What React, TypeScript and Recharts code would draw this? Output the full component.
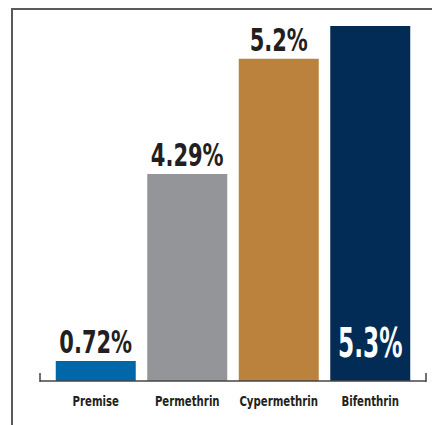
import React from 'react';
import { BarChart, Bar, XAxis, YAxis, Cell, LabelList } from 'recharts';

const products = ["Premise", "Permethrin", "Cypermethrin", "Bifenthrin"];
// percentages printed on the bars
const percentages = [0.72, 4.29, 5.2, 5.3];
// bar heights as drawn in the graphic (not to scale with the printed numbers)
const drawnHeights = [0.3, 3.09, 4.81, 5.3];
const barColors = ["#0067a9", "#949598", "#ba823c", "#022c56"];

const data = products.map((name, i) => ({
  name,
  pct: percentages[i],
  height: drawnHeights[i],
}));

const FONT = '"DejaVu Sans Condensed", "DejaVu Sans", sans-serif';

// the original uses a very narrow face, so squeeze the text horizontally
let ctx: CanvasRenderingContext2D | null = null;
const measure = (text: string, size: number) => {
  if (!ctx) ctx = document.createElement('canvas').getContext('2d');
  if (!ctx) return text.length * size * 0.6;
  ctx.font = `bold ${size}px ${FONT}`;
  return ctx.measureText(text).width;
};

const NarrowText = ({ x, y, size, squeeze, fill, children }: any) => {
  const w = measure(children, size) * squeeze;
  return (
    <text
      x={x}
      y={y}
      textAnchor="middle"
      fill={fill}
      fontFamily={FONT}
      fontWeight="bold"
      fontSize={size}
      textLength={w}
      lengthAdjust="spacingAndGlyphs"
    >
      {children}
    </text>
  );
};

const ValueLabel = (props: any) => {
  const { x, y, width, height, index } = props;
  const text = `${percentages[index]}%`;
  const cx = x + width / 2;
  if (index === products.length - 1) {
    // white label inside the last bar, near its bottom
    return (
      <NarrowText x={cx} y={y + height - 24} size={41} squeeze={0.63} fill="#ffffff">
        {text}
      </NarrowText>
    );
  }
  return (
    <NarrowText x={cx} y={y - 8} size={31.5} squeeze={0.74} fill="#231f20">
      {text}
    </NarrowText>
  );
};

const CategoryTick = (props: any) => {
  const { x, y, payload } = props;
  return (
    <NarrowText x={x} y={y + 17} size={14.5} squeeze={0.78} fill="#231f20">
      {payload.value}
    </NarrowText>
  );
};

const App: React.FC = () => {
  return (
    <div style={{ position: 'relative', width: 440, height: 425, margin: '-8px 0 0 -8px', background: '#fff' }}>
      <svg width={440} height={425} style={{ position: 'absolute', left: 0, top: 0 }}>
        {/* frame (only the part inside the root box gets photographed) */}
        <path d="M12 425 V9 H440" fill="none" stroke="#5a5a5a" strokeWidth={2} />
      </svg>
      <div style={{ position: 'absolute', left: 0, top: 0 }}>
        <BarChart
          width={440}
          height={425}
          data={data}
          margin={{ top: 26, right: 14, left: 40, bottom: 0 }}
          barCategoryGap={5.75}
        >
          <XAxis
            dataKey="name"
            height={44}
            padding={{ left: 10, right: 10 }}
            axisLine={{ stroke: '#444', strokeWidth: 1.5 }}
            tickLine={false}
            tick={<CategoryTick />}
            interval={0}
          />
          <YAxis hide domain={[0, 5.3]} />
          <Bar dataKey="height" isAnimationActive={false}>
            {data.map((d, i) => (
              <Cell key={d.name} fill={barColors[i]} />
            ))}
            <LabelList dataKey="pct" content={<ValueLabel />} />
          </Bar>
        </BarChart>
      </div>
      <svg width={440} height={425} style={{ position: 'absolute', left: 0, top: 0, pointerEvents: 'none' }}>
        {/* axis end ticks */}
        <path d="M40 373 V382 M426 373 V382" fill="none" stroke="#444" strokeWidth={1.5} />
      </svg>
    </div>
  );
};

export default App;
